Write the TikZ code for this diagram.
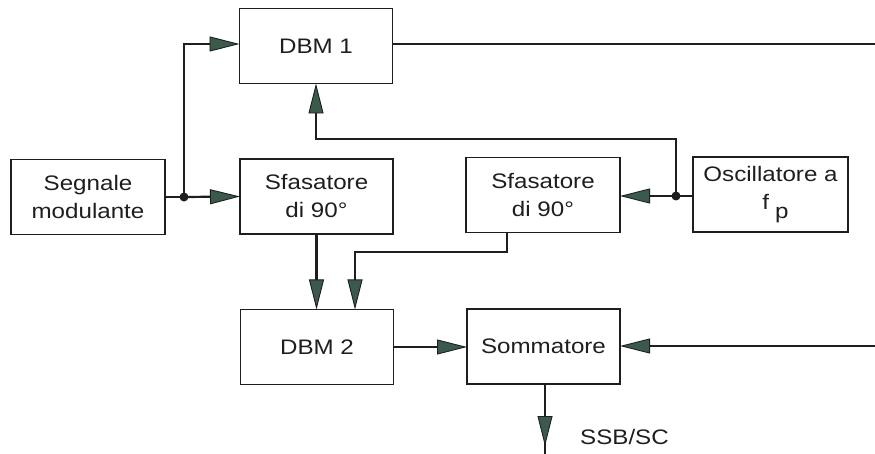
\documentclass[tikz,border=0pt]{standalone}
\usepackage{fontspec}
\setmainfont{Liberation Sans}[FakeStretch=1.15]
\usetikzlibrary{arrows.meta}
\definecolor{tipfill}{HTML}{3B5A4C}
\definecolor{ink}{HTML}{1E1E22}
\tikzset{
  blockbox/.style={draw=ink, line width=1.3pt, minimum width=153pt, minimum height=75pt,
    inner sep=0pt, outer sep=0pt, align=center, font=\fontsize{21}{28}\selectfont, text=ink},
  wire/.style={draw=ink, line width=2.2pt},
  feed/.style={wire, -{Triangle[length=30pt,width=15pt,fill=tipfill,line width=0.9pt]}},
  joint/.style={circle, fill=ink, inner sep=0pt, minimum size=9pt},
  tag/.style={font=\fontsize{21}{28}\selectfont, text=ink, inner sep=0pt}
}
\begin{document}
\begin{tikzpicture}[x=1pt, y=-1pt]
  \useasboundingbox (0,0) rectangle (875,454);

  % blocks
  \node[blockbox] (dbm1) at (316,46) {DBM 1};
  \node[blockbox, minimum width=154pt] (sig) at (88,197) {Segnale\\modulante};
  \node[blockbox] (ph1) at (316.5,196.5) {Sfasatore\\di 90°};
  \node[blockbox, minimum width=154pt] (ph2) at (543,195) {Sfasatore\\di 90°};
  \node[blockbox, minimum width=155pt] (osc) at (770.5,194.5)
    {Oscillatore a\\\hspace*{10pt}f\hspace{6pt}\raisebox{-9pt}{p}};
  \node[blockbox] (dbm2) at (317,347) {DBM 2};
  \node[blockbox] (sum) at (543.5,346.5) {Sommatore};

  % branch points and free ends
  \node[joint] (j1) at (184,197) {};
  \node[joint] (j2) at (676,196) {};
  \coordinate (r1) at (875,44);
  \coordinate (r2) at (875,346);
  \coordinate (outtip) at (545,446);
  \coordinate (outend) at (545,454);

  % modulating signal
  \draw[wire] (sig.east) -- (j1.center);
  \draw[feed] (j1.center) -- (ph1.west);
  \draw[feed] (j1.center) |- (dbm1.west |- 0,44);

  % carrier
  \draw[wire] (osc.west |- j2) -- (j2.center);
  \draw[feed] (j2.center) -- (ph2.east |- j2);
  \draw[feed] (j2.center) -- (676,139) -| (dbm1.south);

  % into DBM 2
  \draw[feed] (ph1.south) -- (dbm2.north -| ph1.south);
  \draw[feed] (ph2.south -| 507,0) -- (507,252) -| (dbm2.north -| 355,0);

  % summing stage
  \draw[wire] (dbm1.east |- r1) -- (r1);
  \draw[feed] (r2) -- (sum.east |- r2);
  \draw[feed] (dbm2.east) -- (sum.west |- dbm2.east);
  \draw[wire] (sum.south -| outend) -- (outend);
  \draw[feed] (sum.south -| outend) -- (outtip);

  \node[tag, anchor=base west] (ssb) at (580,444) {SSB/SC};
\end{tikzpicture}
\end{document}
